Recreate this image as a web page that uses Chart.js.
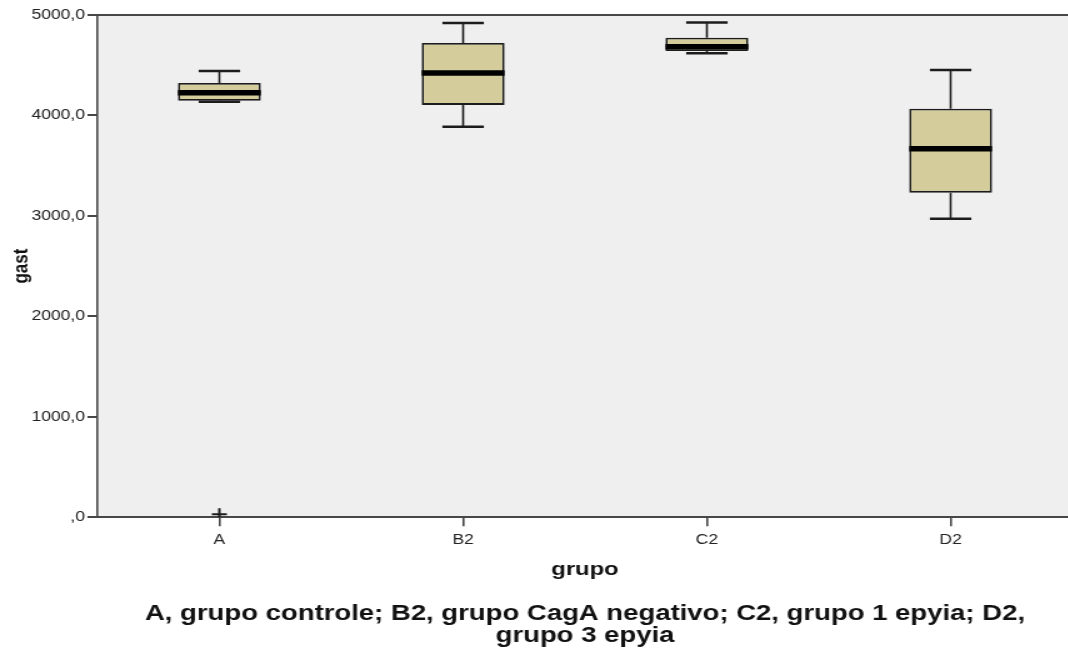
<!DOCTYPE html>
<html>
<head>
<meta charset="utf-8">
<script src="https://cdn.jsdelivr.net/npm/chart.js@4/dist/chart.umd.min.js"></script>
<style>
  html, body { margin: 0; padding: 0; background: #fff; overflow: hidden; }
  /* the original picture is stretched sideways, so the whole chart is too */
  #wrap { width: 866px; height: 656px; transform: scaleX(1.25); transform-origin: 0 0; }
</style>
</head>
<body>
<div id="wrap"><canvas id="myChart"></canvas></div>
<script>
// ** data
const categories = ['A', 'B2', 'C2', 'D2']
const whiskerLow = [4135, 3887, 4620, 2972]
const q1 = [4145, 4105, 4642, 3231]
const median = [4225, 4423, 4685, 3668]
const q3 = [4324, 4722, 4774, 4066]
const whiskerHigh = [4443, 4920, 4925, 4453]
const outliers = [30, null, null, null]
const yTickLabels = [',0', '1000,0', '2000,0', '3000,0', '4000,0', '5000,0']

const FONT = 'Liberation Sans, Arial, sans-serif'
const INK = '#1c1c1c'
const AXIS = '#474747'

// plot background + top frame line
const framePlugin = {
  id: 'frame',
  beforeDraw(chart) {
    const { ctx, chartArea: a } = chart
    ctx.save()
    ctx.fillStyle = '#efefef'
    ctx.fillRect(a.left, a.top, a.right - a.left + 20, a.bottom - a.top)
    ctx.strokeStyle = AXIS
    ctx.lineWidth = 2
    ctx.beginPath()
    ctx.moveTo(a.left, a.top)
    ctx.lineTo(a.right + 20, a.top)
    ctx.stroke()
    ctx.restore()
  }
}

// whiskers, caps and median lines on top of the floating bars
const boxPlugin = {
  id: 'boxes',
  afterDatasetsDraw(chart) {
    const { ctx, scales } = chart
    const y = scales.y
    const bars = chart.getDatasetMeta(0).data
    ctx.save()
    bars.forEach((bar, i) => {
      const cx = bar.x
      const half = bar.width / 2
      const cap = bar.width / 4
      ctx.strokeStyle = INK
      ctx.lineWidth = 1.6
      ctx.beginPath()
      ctx.moveTo(cx, y.getPixelForValue(q3[i]))
      ctx.lineTo(cx, y.getPixelForValue(whiskerHigh[i]))
      ctx.moveTo(cx, y.getPixelForValue(q1[i]))
      ctx.lineTo(cx, y.getPixelForValue(whiskerLow[i]))
      ctx.stroke()
      ctx.lineWidth = 2.5
      ctx.beginPath()
      ctx.moveTo(cx - cap, y.getPixelForValue(whiskerHigh[i]))
      ctx.lineTo(cx + cap, y.getPixelForValue(whiskerHigh[i]))
      ctx.moveTo(cx - cap, y.getPixelForValue(whiskerLow[i]))
      ctx.lineTo(cx + cap, y.getPixelForValue(whiskerLow[i]))
      ctx.stroke()
      ctx.strokeStyle = '#000'
      ctx.lineWidth = 5.5
      ctx.beginPath()
      ctx.moveTo(cx - half, y.getPixelForValue(median[i]))
      ctx.lineTo(cx + half, y.getPixelForValue(median[i]))
      ctx.stroke()
    })
    ctx.restore()
  }
}

const ctx = document.getElementById('myChart').getContext('2d')
const myChart = new Chart(ctx, {
  type: 'bar',
  data: {
    labels: categories,
    datasets: [
      {
        label: 'gast',
        data: q1.map((v, i) => [v, q3[i]]),
        backgroundColor: '#d4cc9b',
        borderColor: INK,
        borderWidth: 1.8,
        borderSkipped: false,
        categoryPercentage: 1,
        barPercentage: 0.34
      },
      {
        type: 'line',
        label: 'outliers',
        data: outliers,
        showLine: false,
        pointStyle: 'cross',
        pointRadius: 6,
        pointBorderWidth: 2,
        pointBorderColor: INK
      }
    ]
  },
  options: {
    responsive: true,
    maintainAspectRatio: false,
    animation: false,
    layout: { padding: { top: 15, right: 2, left: 0, bottom: 0 } },
    plugins: {
      legend: { display: false },
      tooltip: { enabled: false },
      title: {
        display: true,
        position: 'bottom',
        fullSize: false,
        text: ['A, grupo controle; B2, grupo CagA negativo; C2, grupo 1 epyia; D2,', 'grupo 3 epyia'],
        color: '#111',
        font: { family: FONT, size: 22, weight: 'bold', lineHeight: 0.96 },
        padding: { top: 23, bottom: 10 }
      }
    },
    scales: {
      x: {
        offset: true,
        grid: { drawOnChartArea: false, offset: false, tickLength: 9, color: AXIS, lineWidth: 1.6 },
        border: { color: AXIS, width: 2 },
        ticks: { color: '#222', padding: 6, font: { family: FONT, size: 14 } },
        title: {
          display: true,
          text: 'grupo',
          color: '#111',
          font: { family: FONT, size: 19, weight: 'bold' },
          padding: { top: 3, bottom: 0 }
        }
      },
      y: {
        min: 0,
        max: 5000,
        grid: { drawOnChartArea: false, tickLength: 8, color: AXIS, lineWidth: 2 },
        border: { color: AXIS, width: 1.6 },
        ticks: {
          stepSize: 1000,
          padding: 2,
          color: '#222',
          font: { family: FONT, size: 14 },
          callback: (v, i) => yTickLabels[i]
        },
        title: {
          display: true,
          text: 'gast',
          color: '#111',
          font: { family: FONT, size: 17, weight: 'bold' },
          padding: { top: 7, bottom: 0 }
        },
        afterFit(scale) { scale.width = 78 }
      }
    }
  },
  plugins: [framePlugin, boxPlugin]
})
</script>
</body>
</html>
